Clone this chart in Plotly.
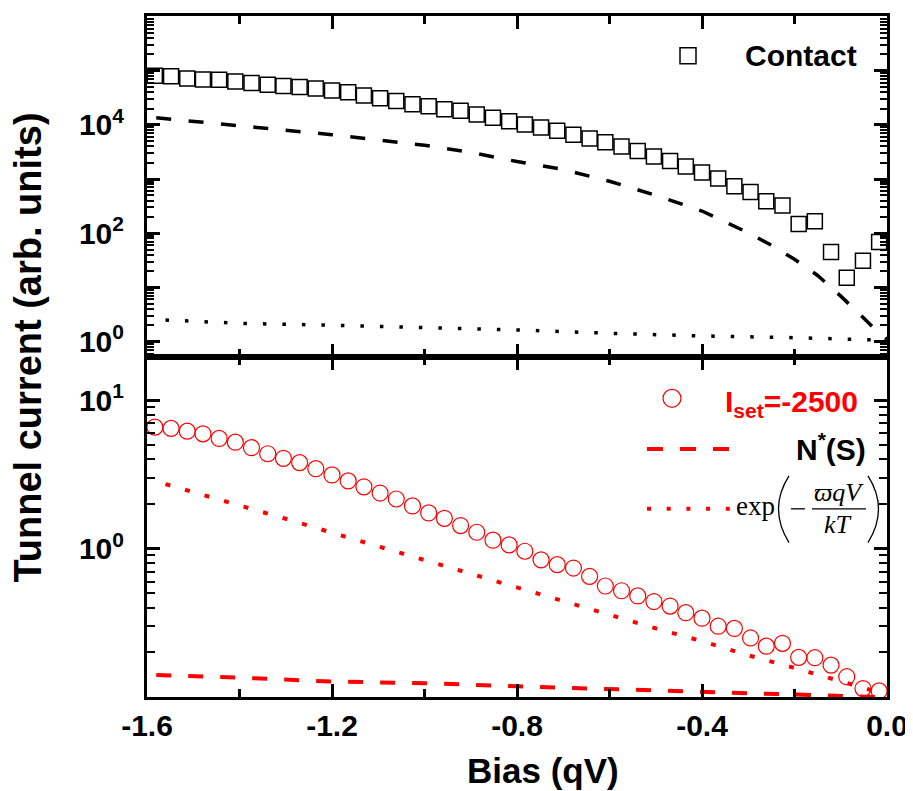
import plotly.graph_objects as go

# ---------------- data ----------------
bias = [-1.583, -1.548, -1.513, -1.479, -1.444, -1.409, -1.374, -1.339, -1.305, -1.270,
        -1.235, -1.200, -1.165, -1.131, -1.096, -1.061, -1.026, -0.991, -0.957, -0.922,
        -0.887, -0.852, -0.817, -0.783, -0.748, -0.713, -0.678, -0.643, -0.609, -0.574,
        -0.539, -0.504, -0.469, -0.435, -0.400, -0.365, -0.330, -0.295, -0.261, -0.226,
        -0.191, -0.156, -0.121, -0.087, -0.052, -0.017]

contact = [8.1e4, 7.9e4, 7.2e4, 6.9e4, 6.8e4, 6.3e4, 5.9e4, 5.5e4, 5.2e4, 5.0e4,
           4.7e4, 4.3e4, 4.0e4, 3.5e4, 3.1e4, 2.75e4, 2.4e4, 2.2e4, 1.95e4, 1.82e4,
           1.55e4, 1.35e4, 1.17e4, 1.02e4, 8.9e3, 7.8e3, 6.6e3, 5.6e3, 4.8e3, 4.0e3,
           3.3e3, 2.6e3, 2.15e3, 1.7e3, 1.32e3, 1.02e3, 740, 575, 390, 325,
           148, 166, 45, 15, 31, 69]

iset = [6.59, 6.46, 6.19, 5.94, 5.53, 5.22, 4.79, 4.36, 4.06, 3.80,
        3.46, 3.14, 2.86, 2.61, 2.37, 2.16, 1.94, 1.74, 1.60, 1.43,
        1.29, 1.14, 1.06, 0.96, 0.84, 0.78, 0.74, 0.65, 0.56, 0.52,
        0.48, 0.44, 0.41, 0.37, 0.34, 0.30, 0.29, 0.25, 0.22, 0.23,
        0.185, 0.184, 0.164, 0.137, 0.114, 0.110]

# top-panel model curves
top_fit_x = [-1.58, -1.4, -1.2, -1.0, -0.9, -0.8, -0.7, -0.6, -0.5, -0.4, -0.3,
             -0.25, -0.2, -0.15, -0.1, -0.05, -0.02, 0.0]
top_dash_y = [1.35e4, 9.5e3, 6.6e3, 4.2e3, 3.1e3, 2.1e3, 1.5e3, 910, 500, 257, 102,
              60, 33, 16.6, 6.9, 2.7, 1.5, 1.1]
top_dot_x = [-1.56, -1.4, -1.2, -1.0, -0.8, -0.6, -0.4, -0.2, -0.05, -0.02]
top_dot_y = [2.5, 2.17, 2.0, 1.83, 1.64, 1.42, 1.27, 1.18, 1.10, 1.07]

# bottom-panel model curves
ns_x = [-1.58, -1.4, -1.2, -1.0, -0.8, -0.6, -0.4, -0.2, -0.1, 0.0]
ns_y = [0.1405, 0.135, 0.127, 0.124, 0.118, 0.1135, 0.108, 0.104, 0.1015, 0.0995]
exp_x = [-1.56, -1.5, -1.4, -1.3, -1.2, -1.1, -1.0, -0.9, -0.8, -0.7, -0.6, -0.5,
         -0.4, -0.3, -0.2, -0.1, -0.02]
exp_y = [2.72, 2.41, 1.96, 1.59, 1.28, 1.035, 0.85, 0.685, 0.555, 0.447, 0.36, 0.29,
         0.238, 0.191, 0.157, 0.128, 0.108]

x_ticks = [-1.6, -1.2, -0.8, -0.4, 0.0]
x_ticktext = ["-1.6", "-1.2", "-0.8", "-0.4", "0.0"]
x_minor = [-1.4, -1.0, -0.6, -0.2]
top_major = [1, 10, 100, 1e3, 1e4, 1e5, 1e6]
top_ticktext = ["10<sup>0</sup>", "", "10<sup>2</sup>", "", "10<sup>4</sup>", "", ""]
bot_major = [0.1, 1, 10]
bot_ticktext = ["", "10<sup>0</sup>", "10<sup>1</sup>"]

# ---------------- layout helpers ----------------
OFF = 8                      # default page margin of the html body
PAGE_W, PAGE_H = 913, 791
W, H = PAGE_W - OFF, PAGE_H - OFF
# plot area in page pixels: left 147, right 887, top 13, bottom 697
L, R, T, B = 147 - OFF, PAGE_W - 887, 13 - OFF, PAGE_H - 697
PW, PH = W - L - R, H - T - B


def px(x):   # page pixel -> paper x
    return (x - OFF - L) / PW


def py(y):   # page pixel -> paper y
    return (H - B - (y - OFF)) / PH


def minor_vals(lo, hi):
    vals = []
    for e in range(lo, hi):
        for m in range(2, 10):
            vals.append(m * 10 ** e)
    return vals


FONT = "Liberation Sans, Arial, sans-serif"
SERIF = "Liberation Serif, Times New Roman, serif"
RED = "#ff0000"

fig = go.Figure()

# top panel
fig.add_trace(go.Scatter(x=top_fit_x, y=top_dash_y, mode="lines", xaxis="x2", yaxis="y2",
                         line=dict(color="black", width=3.5, dash="15px,17.5px"), showlegend=False))
fig.add_trace(go.Scatter(x=top_dot_x, y=top_dot_y, mode="lines", xaxis="x2", yaxis="y2",
                         line=dict(color="black", width=3.5, dash="3.5px,16px"), showlegend=False))
fig.add_trace(go.Scatter(x=bias, y=contact, mode="markers", xaxis="x2", yaxis="y2",
                         marker=dict(symbol="square-open", size=15, color="black",
                                     line=dict(width=1.5, color="black")), showlegend=False))

# bottom panel
fig.add_trace(go.Scatter(x=ns_x, y=ns_y, mode="lines", xaxis="x", yaxis="y",
                         line=dict(color=RED, width=4, dash="15px,17px"), showlegend=False))
fig.add_trace(go.Scatter(x=exp_x, y=exp_y, mode="lines", xaxis="x", yaxis="y",
                         line=dict(color=RED, width=4, dash="5px,15.3px"), showlegend=False))
fig.add_trace(go.Scatter(x=bias, y=iset, mode="markers", xaxis="x", yaxis="y",
                         marker=dict(symbol="circle-open", size=16, color=RED,
                                     line=dict(width=1.2, color=RED)), showlegend=False))

tickfont = dict(family=FONT, size=30, color="black", weight="bold")

xcommon = dict(range=[-1.6, 0.0], tickmode="array", tickvals=x_ticks, ticktext=x_ticktext,
               ticks="inside", ticklen=13, tickwidth=3, tickcolor="black",
               minor=dict(tickmode="array", tickvals=x_minor, ticks="inside", ticklen=8,
                          tickwidth=2.5, tickcolor="black"),
               showline=True, linewidth=3, linecolor="black", mirror="ticks",
               showgrid=False, zeroline=False)

ycommon = dict(type="log", ticks="inside", ticklen=13, tickwidth=3, tickcolor="black",
               showline=True, linewidth=3, linecolor="black", mirror="ticks",
               showgrid=False, zeroline=False, tickmode="array",
               tickfont=tickfont, ticklabelstandoff=14)

fig.update_layout(
    width=W, height=H,
    margin=dict(l=L, r=R, t=T, b=B, pad=0),
    paper_bgcolor="white", plot_bgcolor="white",
    showlegend=False,
    xaxis=dict(**xcommon, anchor="y", domain=[0, 1], tickfont=tickfont, ticklabelstandoff=0),
    xaxis2=dict(**xcommon, anchor="y2", domain=[0, 1], matches="x", showticklabels=False),
    yaxis=dict(**ycommon, domain=[0, 0.5], range=[-1, 1.295],
               tickvals=bot_major, ticktext=bot_ticktext,
               minor=dict(tickmode="array", tickvals=minor_vals(-1, 1), ticks="inside",
                          ticklen=8, tickwidth=2, tickcolor="black")),
    yaxis2=dict(**ycommon, domain=[0.5, 1], range=[-0.276, 6.01],
                tickvals=top_major, ticktext=top_ticktext,
                minor=dict(tickmode="array", tickvals=minor_vals(-1, 6), ticks="inside",
                           ticklen=7, tickwidth=2, tickcolor="black")),
)

ann = []
# axis titles
ann.append(dict(x=px(28), y=py(346), xref="paper", yref="paper", textangle=-90,
                text="Tunnel current (arb. units)", showarrow=False,
                font=dict(family=FONT, size=38, color="black", weight="bold"),
                xanchor="center", yanchor="middle"))
ann.append(dict(x=px(543), y=py(771), xref="paper", yref="paper",
                text="Bias (qV)", showarrow=False,
                font=dict(family=FONT, size=35, color="black", weight="bold"),
                xanchor="center", yanchor="middle"))
# legend texts
ann.append(dict(x=px(859), y=py(53), xref="paper", yref="paper", text="Contact",
                showarrow=False, xanchor="right", yanchor="middle",
                font=dict(family=FONT, size=30, color="black", weight="bold")))
ann.append(dict(x=px(860), y=py(402), xref="paper", yref="paper",
                text="I<sub>set</sub>=-2500", showarrow=False, xanchor="right", yanchor="middle",
                font=dict(family=FONT, size=30, color=RED, weight="bold")))
ann.append(dict(x=px(868), y=py(446), xref="paper", yref="paper",
                text="N<sup>*</sup>(S)", showarrow=False, xanchor="right", yanchor="middle",
                font=dict(family=FONT, size=30, color="black", weight="bold")))
# formula exp(-varpi qV / kT)
ann.append(dict(x=px(755), y=py(505), xref="paper", yref="paper", text="exp",
                showarrow=False, xanchor="center", yanchor="middle",
                font=dict(family=SERIF, size=27, color="black")))
ann.append(dict(x=px(839), y=py(492), xref="paper", yref="paper", text="<i>ϖqV</i>",
                showarrow=False, xanchor="center", yanchor="middle",
                font=dict(family=SERIF, size=26, color="black")))
ann.append(dict(x=px(838), y=py(524), xref="paper", yref="paper", text="<i>kT</i>",
                showarrow=False, xanchor="center", yanchor="middle",
                font=dict(family=SERIF, size=26, color="black")))

shapes = []
# legend samples
shapes.append(dict(type="rect", xref="paper", yref="paper", x0=px(680), x1=px(696),
                   y0=py(61), y1=py(45), line=dict(color="black", width=1.5)))
shapes.append(dict(type="circle", xref="paper", yref="paper", x0=px(663), x1=px(681),
                   y0=py(406), y1=py(388), line=dict(color=RED, width=1.2)))
shapes.append(dict(type="line", xref="paper", yref="paper", x0=px(647), x1=px(729),
                   y0=py(448), y1=py(448), line=dict(color=RED, width=4, dash="16px,17px")))
shapes.append(dict(type="line", xref="paper", yref="paper", x0=px(647), x1=px(732),
                   y0=py(508), y1=py(508), line=dict(color=RED, width=4, dash="4px,15.7px")))
# formula pieces: parentheses, minus, fraction bar
shapes.append(dict(type="path", xref="paper", yref="paper",
                   path=f"M {px(789)},{py(475)} Q {px(768)},{py(508)} {px(789)},{py(542)}",
                   line=dict(color="black", width=1.3)))
shapes.append(dict(type="path", xref="paper", yref="paper",
                   path=f"M {px(868)},{py(475)} Q {px(889)},{py(508)} {px(868)},{py(542)}",
                   line=dict(color="black", width=1.3)))
shapes.append(dict(type="line", xref="paper", yref="paper", x0=px(791), x1=px(805),
                   y0=py(508), y1=py(508), line=dict(color="black", width=1.3)))
shapes.append(dict(type="line", xref="paper", yref="paper", x0=px(812), x1=px(866),
                   y0=py(508), y1=py(508), line=dict(color="black", width=1.3)))

fig.update_layout(annotations=ann, shapes=shapes)

fig.write_html("out.html")
